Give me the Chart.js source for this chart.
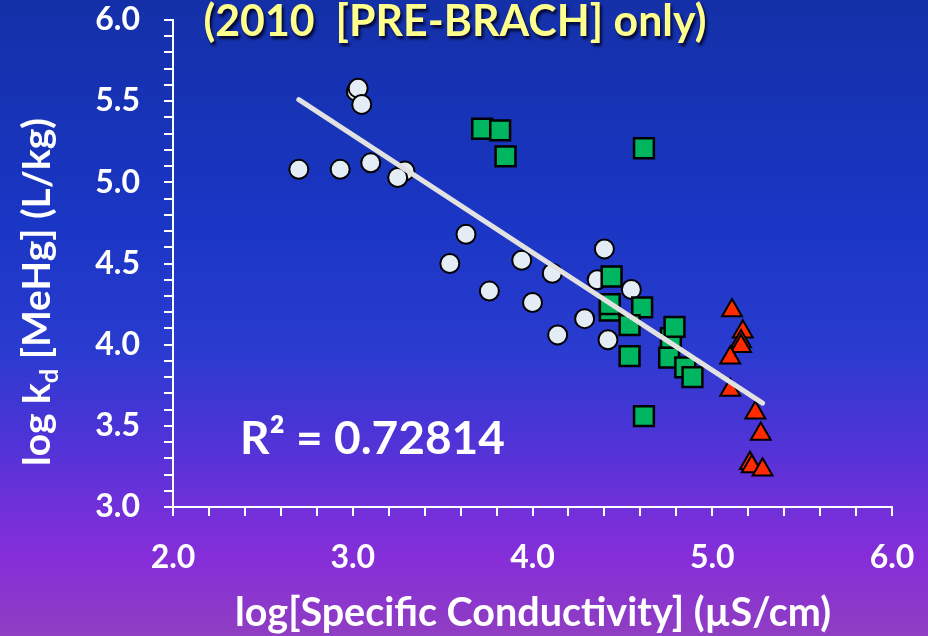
<!DOCTYPE html>
<html><head><meta charset="utf-8">
<script src="https://cdn.jsdelivr.net/npm/chart.js@4.4.1/dist/chart.umd.min.js"></script>
<style>html,body{margin:0;padding:0;background:#1530a8;overflow:hidden}#wrap{width:928px;height:636px;position:relative}</style>
</head><body><div id="wrap"><canvas id="c" width="928" height="636"></canvas></div>
<script>
// ---- data ----
const circleX = [2.70, 2.93, 3.10, 3.29, 3.25, 3.02, 3.03, 3.05, 3.63, 3.54, 3.94, 4.11, 3.76, 4.00, 4.40, 4.36, 4.55, 4.29, 4.14, 4.42];
const circleY = [5.08, 5.08, 5.12, 5.07, 5.03, 5.56, 5.58, 5.48, 4.68, 4.50, 4.52, 4.44, 4.33, 4.26, 4.59, 4.40, 4.34, 4.16, 4.06, 4.03];
const squareX = [3.72, 3.82, 3.85, 4.62, 4.44, 4.43, 4.43, 4.61, 4.54, 4.77, 4.79, 4.54, 4.76, 4.85, 4.89, 4.62];
const squareY = [5.33, 5.32, 5.16, 5.21, 4.42, 4.21, 4.25, 4.23, 4.12, 4.04, 4.11, 3.93, 3.92, 3.86, 3.80, 3.56];
const triangleX = [5.11, 5.17, 5.16, 5.16, 5.10, 5.10, 5.24, 5.27, 5.21, 5.22, 5.28];
const triangleY = [4.21, 4.08, 4.02, 3.99, 3.92, 3.72, 3.58, 3.45, 3.27, 3.25, 3.23];
const fitX = [2.70, 5.28];
const fitY = [5.51, 3.64];
const xTickLabels = ['2.0', '3.0', '4.0', '5.0', '6.0'];
const yTickLabels = ['3.0', '3.5', '4.0', '4.5', '5.0', '5.5', '6.0'];
const TITLE_TEXT = '(2010  [PRE-BRACH] only)';
const R2_TEXT = 'R\u00B2 = 0.72814';
const X_TITLE = 'log[Specific Conductivity] (\u00B5S/cm)';
const Y_TITLE_PARTS = ['log k', 'd', ' [MeHg] (L/kg)'];

const pts = (xs, ys) => xs.map((x, i) => ({x: x, y: ys[i]}));
const FONT = 'Lato';

const bgPlugin = {
  id: 'bg',
  beforeDraw(chart) {
    const {ctx, width, height} = chart;
    const g = ctx.createLinearGradient(0, 0, 0, height);
    g.addColorStop(0, '#1430a8');
    g.addColorStop(0.35, '#1a36c4');
    g.addColorStop(0.55, '#2a3bd0');
    g.addColorStop(0.68, '#4b34d6');
    g.addColorStop(0.80, '#7130d9');
    g.addColorStop(0.88, '#862ed8');
    g.addColorStop(1, '#903ec2');
    ctx.save(); ctx.fillStyle = g; ctx.fillRect(0, 0, width, height); ctx.restore();
  }
};

const textPlugin = {
  id: 'texts',
  afterDraw(chart) {
    const ctx = chart.ctx;
    // title
    ctx.save();
    ctx.font = 'bold 44px ' + FONT;
    ctx.textAlign = 'center'; ctx.textBaseline = 'alphabetic';
    ctx.shadowColor = 'rgba(0,0,30,0.85)'; ctx.shadowOffsetX = 2; ctx.shadowOffsetY = 3; ctx.shadowBlur = 3;
    ctx.fillStyle = '#ffff8c';
    ctx.fillText(TITLE_TEXT, 455, 36, 503);
    ctx.restore();
    // R2
    ctx.save();
    ctx.font = 'bold 46px ' + FONT;
    ctx.textAlign = 'left'; ctx.fillStyle = '#ffffff';
    ctx.fillText(R2_TEXT, 240, 454, 270);
    ctx.restore();
    // x title
    ctx.save();
    ctx.font = 'bold 40px ' + FONT;
    ctx.textAlign = 'center'; ctx.fillStyle = '#ffffff';
    ctx.fillText(X_TITLE, 533, 626, 596);
    ctx.restore();
    // y title with subscript
    ctx.save();
    ctx.fillStyle = '#ffffff';
    ctx.translate(50, 292); ctx.rotate(-Math.PI / 2);
    const mainF = 'bold 38px ' + FONT, subF = 'bold 25px ' + FONT;
    ctx.font = mainF; const w0 = ctx.measureText(Y_TITLE_PARTS[0]).width;
    ctx.font = subF; const w1 = ctx.measureText(Y_TITLE_PARTS[1]).width;
    ctx.font = mainF; const w2 = ctx.measureText(Y_TITLE_PARTS[2]).width;
    const total = w0 + w1 + w2, target = 348;
    ctx.scale(target / total, 1);
    let x = -total / 2;
    ctx.textAlign = 'left';
    ctx.font = mainF; ctx.fillText(Y_TITLE_PARTS[0], x, 0); x += w0;
    ctx.font = subF; ctx.fillText(Y_TITLE_PARTS[1], x, 8); x += w1;
    ctx.font = mainF; ctx.fillText(Y_TITLE_PARTS[2], x, 0);
    ctx.restore();
  }
};

const near = (v, s) => Math.abs(v / s - Math.round(v / s)) < 1e-6;

new Chart(document.getElementById('c'), {
  type: 'scatter',
  data: {
    datasets: [
      {label: 'fit', type: 'line', data: pts(fitX, fitY), showLine: true, pointRadius: 0,
       borderColor: '#e2e2e2', borderWidth: 5, borderCapStyle: 'round', order: 0},
      {label: 'tri', data: pts(triangleX, triangleY), pointStyle: 'triangle', pointRadius: 11.5,
       backgroundColor: '#ff2a00', borderColor: '#000000', borderWidth: 2, order: 1},
      {label: 'sq', data: pts(squareX, squareY), pointStyle: 'rect', pointRadius: 14,
       backgroundColor: '#00b560', borderColor: '#000000', borderWidth: 2.5, order: 2},
      {label: 'circ', data: pts(circleX, circleY), pointStyle: 'circle', pointRadius: 9.5,
       backgroundColor: '#e4ecf6', borderColor: '#000000', borderWidth: 2, order: 3}
    ]
  },
  options: {
    responsive: false, animation: false,
    layout: {padding: {left: 0, top: 20, right: 36, bottom: 0}},
    plugins: {legend: {display: false}, tooltip: {enabled: false}, title: {display: false}},
    scales: {
      x: {
        type: 'linear', min: 2, max: 6,
        afterFit(s) { s.height = 129; s.paddingLeft = 0; s.paddingRight = 0; },
        border: {color: '#ffffff', width: 2},
        grid: {drawOnChartArea: false, drawTicks: true, tickLength: 9, color: '#ffffff', lineWidth: 2},
        ticks: {stepSize: 0.2, autoSkip: false, maxRotation: 0, color: '#ffffff', padding: 22,
          font: {family: FONT, size: 32, weight: 'bold'},
          callback: v => near(v, 1) ? xTickLabels[Math.round(v) - 2] : ''}
      },
      y: {
        type: 'linear', min: 3, max: 6,
        afterFit(s) { s.width = 173; s.paddingTop = 0; s.paddingBottom = 0; },
        border: {color: '#ffffff', width: 2},
        grid: {drawOnChartArea: false, drawTicks: true, tickLength: 9, color: '#ffffff', lineWidth: 2},
        ticks: {stepSize: 0.1, autoSkip: false, color: '#ffffff', padding: 24,
          font: {family: FONT, size: 32, weight: 'bold'},
          callback: v => near(v, 0.5) ? yTickLabels[Math.round((v - 3) * 2)] : ''}
      }
    }
  },
  plugins: [bgPlugin, textPlugin]
});
</script>
</body></html>
